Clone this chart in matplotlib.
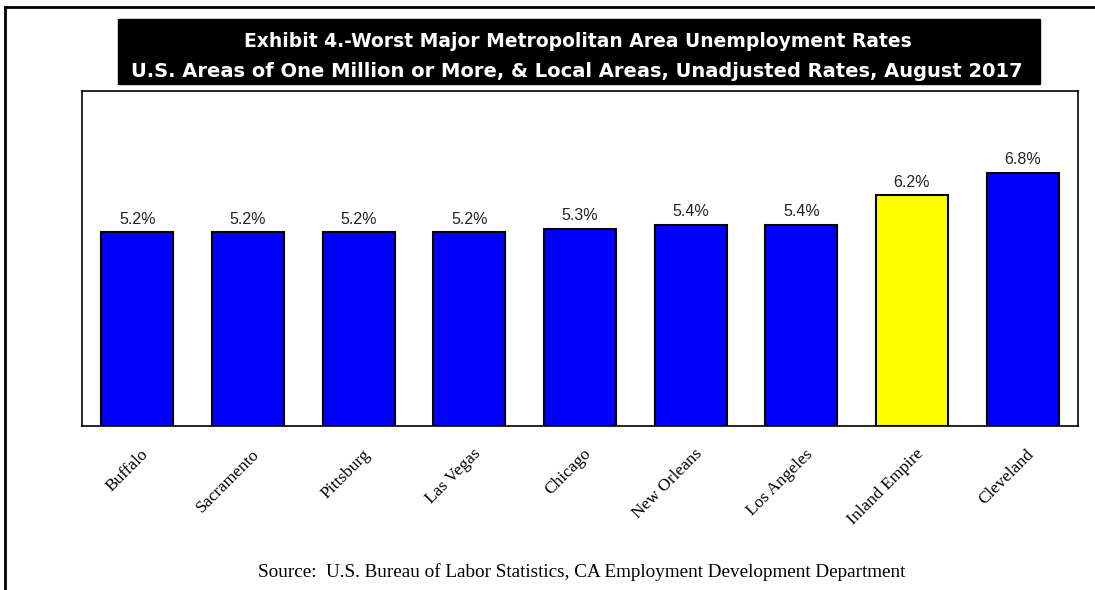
#!/usr/bin/env python3
"""Worst major metro unemployment rates, August 2017 - bar chart."""
import matplotlib
matplotlib.use("Agg")
import matplotlib.pyplot as plt
import matplotlib.patches as patches
from matplotlib.lines import Line2D

# Data
areas = ['Buffalo', 'Sacramento', 'Pittsburg', 'Las Vegas', 'Chicago',
         'New Orleans', 'Los Angeles', 'Inland Empire', 'Cleveland']
rates = [5.2, 5.2, 5.2, 5.2, 5.3, 5.4, 5.4, 6.2, 6.8]
highlight = 'Inland Empire'

title_lines = [
    'Exhibit 4.-Worst Major Metropolitan Area Unemployment Rates',
    'U.S. Areas of One Million or More, & Local Areas, Unadjusted Rates, August 2017',
]
source = 'Source:  U.S. Bureau of Labor Statistics, CA Employment Development Department'

# Colors
BLUE = '#0000ff'
YELLOW = '#ffff00'

W, H, DPI = 1095, 590, 100

fig = plt.figure(figsize=(W / DPI, H / DPI), dpi=DPI)
fig.patch.set_facecolor('white')

# outer frame (top and left edges only)
fig.add_artist(Line2D([5 / W, 5 / W], [0, 1 - 7 / H], transform=fig.transFigure,
                      color='black', linewidth=2))
fig.add_artist(Line2D([5 / W, 1], [1 - 7 / H, 1 - 7 / H], transform=fig.transFigure,
                      color='black', linewidth=2))

# title box
fig.add_artist(patches.Rectangle((118 / W, 1 - 84 / H), 922 / W, 65 / H,
                                 transform=fig.transFigure,
                                 facecolor='black', edgecolor='black'))
fig.text(578 / W, 1 - 47 / H, title_lines[0], color='white', fontsize=13.5,
         fontweight='bold', ha='center', va='baseline', family='DejaVu Sans')
fig.text(577 / W, 1 - 77 / H, title_lines[1], color='white', fontsize=14,
         fontweight='bold', ha='center', va='baseline', family='DejaVu Sans')

# plot area
ax = fig.add_axes([82 / W, 1 - 426 / H, 996 / W, 335 / H])
x = range(len(areas))
colors = [YELLOW if a == highlight else BLUE for a in areas]
ax.bar(x, rates, width=0.65, color=colors, edgecolor='black', linewidth=1.5)
ax.set_xlim(-0.5, len(areas) - 0.5)
ax.set_ylim(0, 9)
ax.set_yticks([])
ax.set_xticks([])
for s in ax.spines.values():
    s.set_linewidth(1.2)

for i, r in enumerate(rates):
    ax.annotate(f'{r:.1f}%', (i, r), xytext=(0, 4), textcoords='offset points',
                ha='center', va='bottom', fontsize=11.5, color='#222222',
                family='Liberation Sans')

# rotated category labels
for i, a in enumerate(areas):
    ax.text(i + 0.03, -0.06, a, transform=ax.get_xaxis_transform(),
            rotation=45, ha='right', va='top', rotation_mode='anchor',
            fontsize=12.5, family='Liberation Serif')

fig.text(582 / W, 1 - 572 / H, source, ha='center', va='center',
         fontsize=13.8, family='Liberation Serif')

fig.savefig('out.png', dpi=DPI, facecolor='white')
